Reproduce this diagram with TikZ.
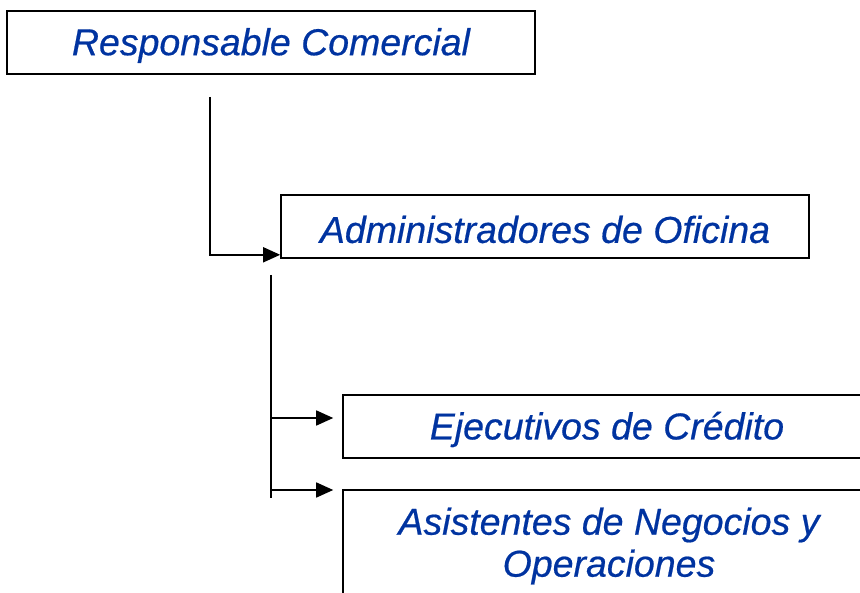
\documentclass[tikz,border=0pt]{standalone}
\usepackage{fontspec}
\setmainfont{Liberation Sans}
\newfontfamily\lblfont{Liberation Sans}[FakeBold=0.5]
\usetikzlibrary{arrows.meta,calc}
\definecolor{txtblue}{HTML}{0033A0}
\begin{document}
\begin{tikzpicture}[x=1pt,y=-1pt,
  orgbox/.style={draw=black,line width=1.6pt,minimum width=528pt,minimum height=63pt,inner sep=0pt},
  lbl/.style={inner sep=0pt,font=\lblfont\fontsize{37.5}{42}\selectfont\itshape,text=txtblue,align=center,yshift=-3pt},
  conn/.style={line width=1.6pt,draw=black},
  arr/.style={conn,-{Triangle[length=17pt,width=15pt]}}]
\useasboundingbox (0,0) rectangle (860,593);
\begin{scope}
\clip (0,0) rectangle (860,593);
\node[orgbox] (b1) at (271,42.5) {};
\node[orgbox] (b2) at (545,226.5) {};
\node[orgbox] (b3) at (607,426.5) {};
\node[orgbox,minimum height=110pt] (b4) at (607,545) {};
\end{scope}
\node[lbl] (l1) at (b1.center) {Responsable Comercial};
\node[lbl] (l2) at (b2.center) {Administradores de Oficina};
\node[lbl] (l3) at (b3.center) {Ejecutivos de Crédito};
\node[lbl] (l4) at (609,543) {Asistentes de Negocios y\\Operaciones};
\coordinate (s1) at (210,97);
\coordinate (t2) at ($(b2.south west)+(0,-4)$);
\draw[arr] (s1) |- (t2);
\coordinate (s2) at (271,275);
\coordinate (e2) at (271,498);
\draw[conn] (s2) -- (e2);
\coordinate (a3) at (271,418);
\coordinate (a4) at (271,490);
\draw[arr] (a3) -- ($(a3-|b3.west)+(-9,0)$);
\draw[arr] (a4) -- ($(a4-|b4.west)+(-9,0)$);
\end{tikzpicture}
\end{document}
